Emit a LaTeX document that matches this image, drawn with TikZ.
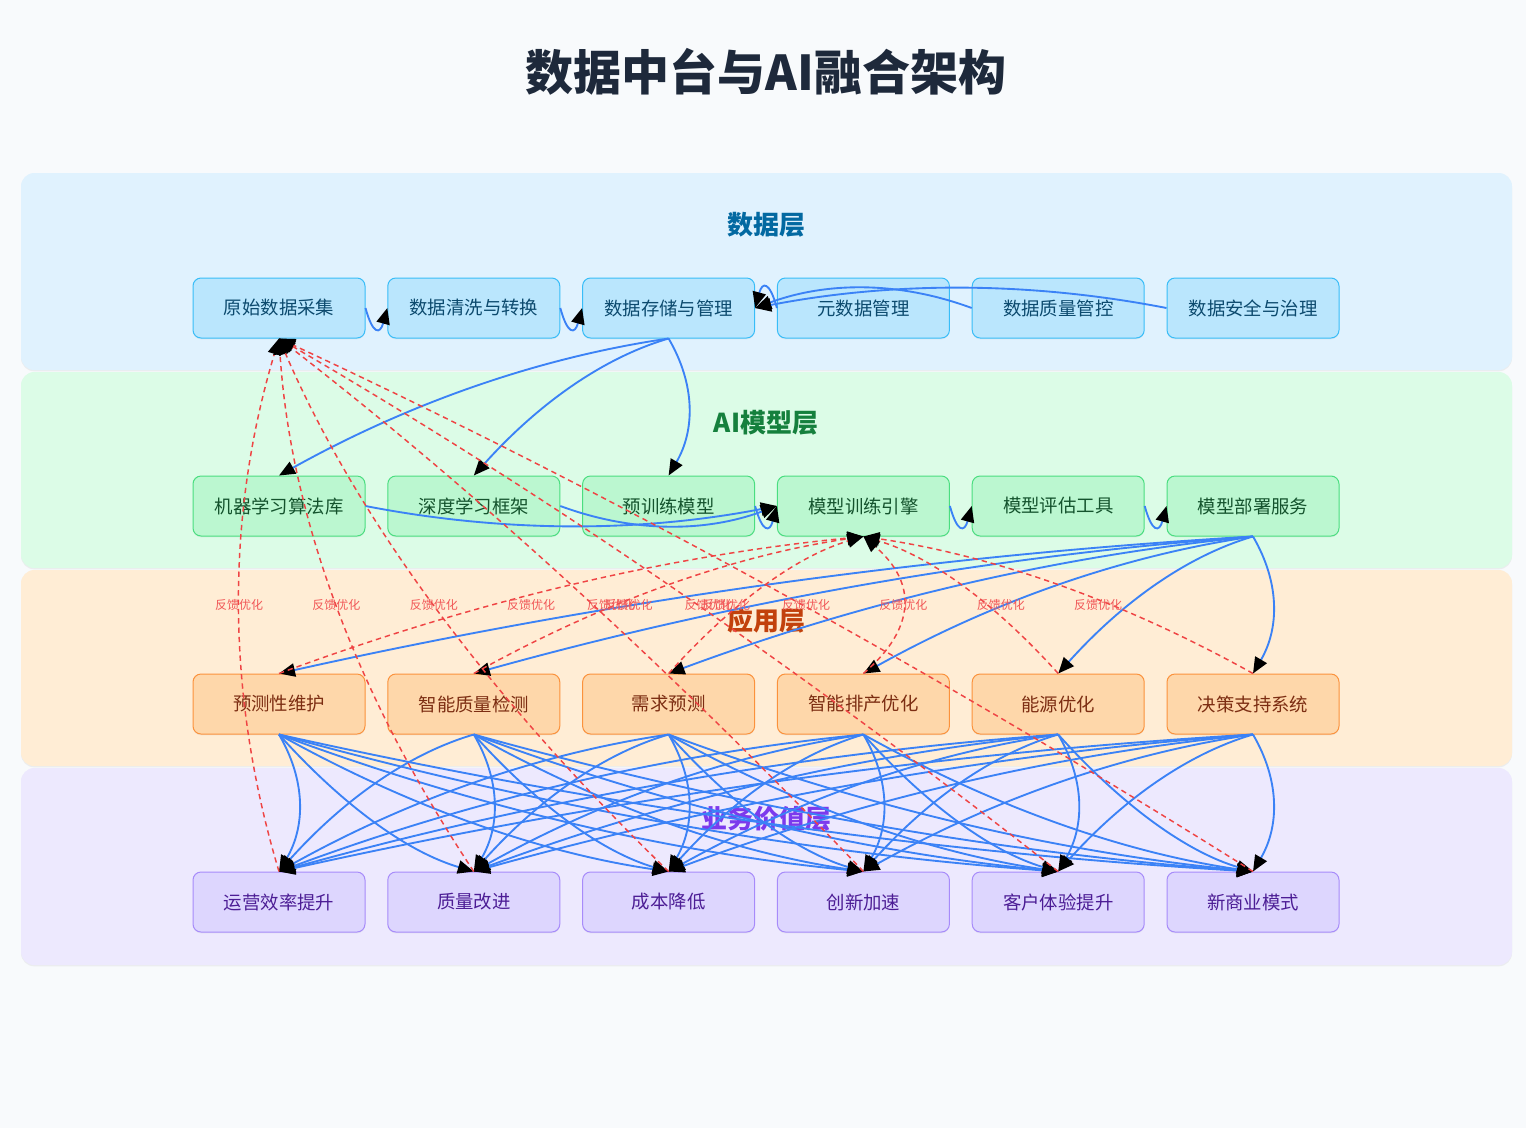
\documentclass[tikz,border=0pt]{standalone}
\usepackage{fontspec}
\setmainfont{Noto Sans CJK SC}
\usetikzlibrary{arrows.meta,calc,shadows}
\definecolor{bgc}{HTML}{F8FAFC}
\definecolor{bandD}{HTML}{E0F2FE}
\definecolor{bandM}{HTML}{DCFCE7}
\definecolor{bandP}{HTML}{FFEDD5}
\definecolor{bandV}{HTML}{EDE9FE}
\definecolor{fillD}{HTML}{BAE6FD}
\definecolor{lineD}{HTML}{38BDF8}
\definecolor{textD}{HTML}{0C4A6E}
\definecolor{titD}{HTML}{0369A1}
\definecolor{fillM}{HTML}{BBF7D0}
\definecolor{lineM}{HTML}{4ADE80}
\definecolor{textM}{HTML}{14532D}
\definecolor{titM}{HTML}{15803D}
\definecolor{fillP}{HTML}{FED7AA}
\definecolor{lineP}{HTML}{FB923C}
\definecolor{textP}{HTML}{7C2D12}
\definecolor{titP}{HTML}{C2410C}
\definecolor{fillV}{HTML}{DDD6FE}
\definecolor{lineV}{HTML}{A78BFA}
\definecolor{textV}{HTML}{4C1D95}
\definecolor{titV}{HTML}{7C3AED}
\definecolor{eblue}{HTML}{3B82F6}
\definecolor{ered}{HTML}{EF4444}
\definecolor{titc}{HTML}{1E293B}
\newcommand\qlink[5]{%
  \path ($(#2)!0.5!(#3)$) ++(#4,#5) coordinate (qc);
  \draw[#1] (#2) .. controls ($(#2)!0.6667!(qc)$) and ($(#3)!0.6667!(qc)$) .. (#3);}
\newcommand\fbtag[3]{\path ($(#1)!0.5!(#2)$) ++(#3,0) node[fbl] {反馈优化};}
\begin{document}
\begin{tikzpicture}[x=0.75pt,y=-0.75pt,
  band/.style={rounded corners=10pt, drop shadow={opacity=0.10,shadow xshift=0pt,shadow yshift=-1pt}},
  nd/.style={rounded corners=6pt, minimum width=129pt, minimum height=45pt, line width=0.75pt,
     inner sep=0pt, font=\fontsize{13.8pt}{16pt}\selectfont,
     drop shadow={opacity=0.10,shadow xshift=0pt,shadow yshift=-1pt}},
  dn/.style={nd, fill=fillD, draw=lineD, text=textD},
  mn/.style={nd, fill=fillM, draw=lineM, text=textM},
  pn/.style={nd, fill=fillP, draw=lineP, text=textP},
  vn/.style={nd, fill=fillV, draw=lineV, text=textV},
  ltit/.style={font=\bfseries\fontsize{19.5pt}{22pt}\selectfont},
  bl/.style={draw=eblue, line width=1.4pt, -{Triangle[length=12pt,width=10pt,color=black]}},
  fb/.style={draw=ered, line width=1.1pt, dash pattern=on 4pt off 3pt, -{Triangle[length=12pt,width=10pt,color=black]}},
  fbl/.style={font=\fontsize{9pt}{10pt}\selectfont, text=ered!90, inner sep=1pt}]
\useasboundingbox (0,0) rectangle (1526,1128);
\fill[bgc] (0,0) rectangle (1526,1128);
\node[font=\bfseries\fontsize{36pt}{40pt}\selectfont, text=titc] (title) at (766,72) {数据中台与AI融合架构};
% bands
\path[band, fill=bandD] (21,173) rectangle (1512,370);
\path[band, fill=bandM] (21,372) rectangle (1512,568);
\path[band, fill=bandP] (21,570) rectangle (1512,766);
\path[band, fill=bandV] (21,768) rectangle (1512,965);
\node[ltit, text=titD] (tD) at (766,225) {数据层};
\node[ltit, text=titM] (tM) at (766,423) {AI模型层};
\node[ltit, text=titP] (tP) at (766,621) {应用层};
\node[ltit, text=titV] (tV) at (766,819) {业务价值层};
% nodes
\foreach [count=\i] \t in {原始数据采集,数据清洗与转换,数据存储与管理,元数据管理,数据质量管控,数据安全与治理}
  \node[dn] (d\i) at ({279+194.8*(\i-1)},308) {\t};
\foreach [count=\i] \t in {机器学习算法库,深度学习框架,预训练模型,模型训练引擎,模型评估工具,模型部署服务}
  \node[mn] (m\i) at ({279+194.8*(\i-1)},506) {\t};
\foreach [count=\i] \t in {预测性维护,智能质量检测,需求预测,智能排产优化,能源优化,决策支持系统}
  \node[pn] (p\i) at ({279+194.8*(\i-1)},704) {\t};
\foreach [count=\i] \t in {运营效率提升,质量改进,成本降低,创新加速,客户体验提升,新商业模式}
  \node[vn] (v\i) at ({279+194.8*(\i-1)},902) {\t};
% data layer links
\qlink{bl}{d1.east}{d2.west}{0}{40}
\qlink{bl}{d2.east}{d3.west}{0}{40}
\qlink{bl}{d4.west}{d3.east}{0}{-40}
\qlink{bl}{d5.west}{d3.east}{0}{-40}
\qlink{bl}{d6.west}{d3.east}{0}{-40}
% data -> AI
\qlink{bl}{d3.south}{m1.north}{0}{-40}
\qlink{bl}{d3.south}{m2.north}{0}{-40}
\qlink{bl}{d3.south}{m3.north}{40}{0}
% AI layer links
\qlink{bl}{m1.east}{m4.west}{0}{40}
\qlink{bl}{m2.east}{m4.west}{0}{40}
\qlink{bl}{m3.east}{m4.west}{0}{40}
\qlink{bl}{m4.east}{m5.west}{0}{40}
\qlink{bl}{m5.east}{m6.west}{0}{40}
% AI -> app
\foreach \j in {1,...,5} {\qlink{bl}{m6.south}{p\j.north}{0}{-40}}
\qlink{bl}{m6.south}{p6.north}{40}{0}
% app -> business
\foreach \i in {1,...,6}{\foreach \j in {1,...,6}{%
  \ifnum\i=\j \qlink{bl}{p\i.south}{v\j.north}{40}{0}%
  \else\ifnum\i<\j \qlink{bl}{p\i.south}{v\j.north}{0}{40}%
  \else \qlink{bl}{p\i.south}{v\j.north}{0}{-40}\fi\fi}}
% feedback business -> raw data
\foreach \j in {1,2,3} {\qlink{fb}{v\j.north}{d1.south}{-80}{0}}
\foreach \j in {4,5,6} {\qlink{fb}{v\j.north}{d1.south}{0}{-40}}
% feedback app -> training engine
\foreach \j in {1,2,3,5,6} {\qlink{fb}{p\j.north}{m4.south}{0}{-40}}
\qlink{fb}{p4.north}{m4.south}{80}{0}
% labels
\foreach \j in {1,...,6} {\fbtag{v\j.north}{d1.south}{-40}}
\foreach \j in {1,...,6} {\fbtag{p\j.north}{m4.south}{40}}
\end{tikzpicture}
\end{document}
